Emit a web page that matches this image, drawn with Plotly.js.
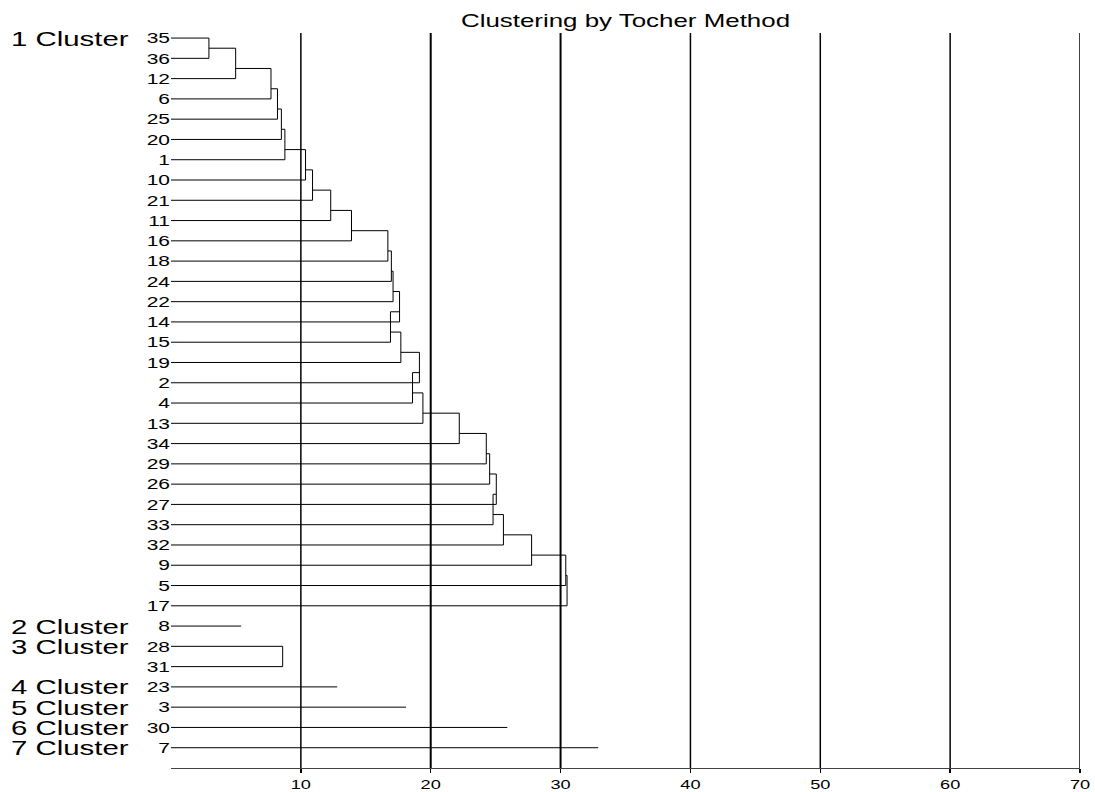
<!DOCTYPE html>
<html>
<head>
<meta charset="utf-8">
<script src="https://cdn.plot.ly/plotly-3.0.1.min.js"></script>
<style>html,body{margin:0;padding:0;background:#fff;}#chart{width:1095px;height:792px;}</style>
</head>
<body>
<div id="chart"></div>
<script>
// ---- data ----
const chartTitle = "Clustering by Tocher Method";
const clusterLabels = ["1 Cluster", "2 Cluster", "3 Cluster", "4 Cluster", "5 Cluster", "6 Cluster", "7 Cluster"];
const clusterSizes = [29, 1, 2, 1, 1, 1, 1];
const leafLabels = ["35","36","12","6","25","20","1","10","21","11","16","18","24","22","14","15","19","2","4","13","34","29","26","27","33","32","9","5","17",
                    "8",
                    "28","31",
                    "23",
                    "3",
                    "30",
                    "7"];
// distance at which each object joins its cluster (first object of a group uses the first join)
const joinHeights = [2.92, 2.92, 4.98, 7.7, 8.2, 8.5, 8.77, 10.36, 10.9, 12.3, 13.9, 16.7, 16.97, 17.1, 17.6, 16.9, 17.7, 19.13, 18.6, 19.4, 22.2, 24.28, 24.54, 25.05, 24.8, 25.6, 27.77, 30.4, 30.5,
                     5.4,
                     8.6, 8.6,
                     12.8,
                     18.1,
                     25.9,
                     32.9];
const xTickVals = [10, 20, 30, 40, 50, 60, 70];
const gridWidths = [1.5, 2, 2, 1.5, 1.5, 1.5, 1.5];

// ---- build dendrogram segments ----
const xs = [], ys = [];
function seg(x0, y0, x1, y1) { xs.push(x0, x1, null); ys.push(y0, y1, null); }
const clusterStartRows = [];
let r0 = 0;
clusterSizes.forEach(n => {
  clusterStartRows.push(r0);
  for (let j = 0; j < n; j++) {
    const row = r0 + j;
    const h = joinHeights[row];
    seg(0, row, h, row);                       // object line
    if (j >= 1) {
      seg(h, j === 1 ? r0 : row - 1.5, h, row); // vertical join
      if (j + 1 < n) seg(h, row - 0.5, joinHeights[row + 1], row - 0.5); // link to next join
    }
  }
  r0 += n;
});
const nRows = leafLabels.length;

const FONT = "Arial, 'Liberation Sans', sans-serif";
const traces = [{
  type: "scatter", mode: "lines", x: xs, y: ys,
  line: {color: "#000", width: 1}, hoverinfo: "skip", connectgaps: false
}];

const annotations = clusterLabels.map((t, i) => ({
  text: t, xref: "paper", x: 0, xshift: -162, xanchor: "left",
  yref: "y", y: clusterStartRows[i], yanchor: "middle",
  showarrow: false, font: {family: FONT, size: 21, color: "#000"}
}));

const shapes = xTickVals.map((v, i) => ({
  type: "line", xref: "x", yref: "paper", x0: v, x1: v, y0: 0, y1: 1,
  line: {color: "#000", width: gridWidths[i]}, layer: "below"
}));

const layout = {
  width: 1095, height: 792,
  margin: {l: 171, r: 15, t: 33, b: 24},
  paper_bgcolor: "#fff", plot_bgcolor: "#fff",
  showlegend: false,
  title: {text: chartTitle, xref: "paper", x: 0.5, xanchor: "center",
          yref: "container", y: 1 - 21/792, yanchor: "middle",
          font: {family: FONT, size: 18.5, color: "#000"}},
  xaxis: {range: [0, 70], tickvals: xTickVals, ticktext: xTickVals.map(String),
          showgrid: false, zeroline: false,
          showline: true, linecolor: "#444", linewidth: 1,
          ticks: "outside", ticklen: 4, tickcolor: "#000", tickwidth: 1.5,
          tickfont: {family: FONT, size: 13, color: "#000"}, fixedrange: true},
  yaxis: {range: [nRows, -0.25], tickvals: leafLabels.map((_, i) => i), ticktext: leafLabels,
          showgrid: false, zeroline: false, showline: false, ticks: "",
          tickfont: {family: FONT, size: 15, color: "#000"}, fixedrange: true},
  shapes: shapes,
  annotations: annotations
};

const gd = document.getElementById("chart");
Plotly.newPlot(gd, traces, layout, {displayModeBar: false, staticPlot: true}).then(() => {
  // the reference text is horizontally widened; widen each label around its anchor
  const s = 1.4;
  gd.querySelectorAll("text").forEach(t => {
    const bb = t.getBBox();
    if (!bb.width) return;
    let anchor = t.getAttribute("text-anchor") || getComputedStyle(t).textAnchor || "start";
    if (t.classList.contains("annotation-text")) anchor = "start";
    const ax = anchor === "end" ? bb.x + bb.width : (anchor === "middle" ? bb.x + bb.width / 2 : bb.x);
    const prev = t.getAttribute("transform") || "";
    t.setAttribute("transform", prev + " translate(" + ax + ",0) scale(" + s + ",1) translate(" + (-ax) + ",0)");
  });
});
</script>
</body>
</html>
